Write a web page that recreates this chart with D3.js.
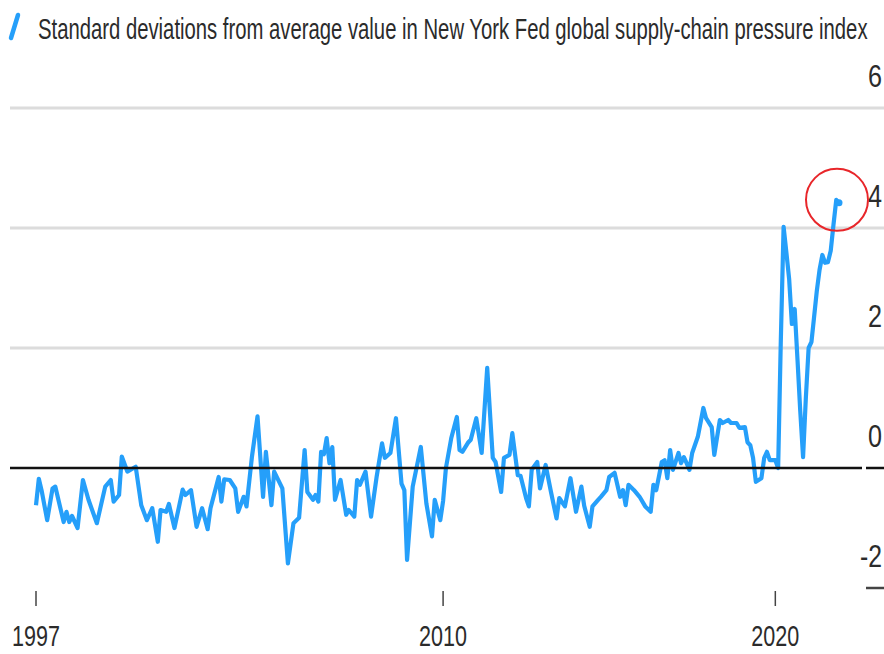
<!DOCTYPE html>
<html>
<head>
<meta charset="utf-8">
<script src="https://cdn.jsdelivr.net/npm/d3@7"></script>
<style>
  html, body { margin: 0; padding: 0; background: #fff; }
  svg { display: block; }
  text { font-family: "Liberation Sans", Arial, sans-serif; fill: #2b2b2b; }
</style>
</head>
<body>
<script>
// GSCPI, standard deviations from average
var dates = ["1997-10","1997-11","1997-12","1998-02","1998-04","1998-05","1998-08","1998-09","1998-10","1998-11",
  "1999-01","1999-03","1999-05","1999-08","1999-11","2000-01","2000-02","2000-04","2000-05","2000-07",
  "2000-10","2000-12","2001-02","2001-04","2001-06","2001-07","2001-09","2001-10","2001-12","2002-01",
  "2002-03","2002-04","2002-06","2002-08","2002-10","2002-12","2003-01","2003-04","2003-05","2003-06",
  "2003-08","2003-10","2003-11","2004-01","2004-02","2004-04","2004-06","2004-08","2004-09","2004-11",
  "2004-12","2005-03","2005-05","2005-07","2005-09","2005-11","2005-12","2006-02","2006-03","2006-04",
  "2006-05","2006-06","2006-07","2006-08","2006-09","2006-10","2006-12","2007-02","2007-03","2007-05",
  "2007-06","2007-07","2007-09","2007-11","2008-01","2008-03","2008-04","2008-06","2008-08","2008-10",
  "2008-11","2008-12","2009-02","2009-05","2009-07","2009-09","2009-10","2009-12","2010-01","2010-02",
  "2010-04","2010-06","2010-07","2010-08","2010-10","2010-11","2011-01","2011-03","2011-05","2011-07",
  "2011-08","2011-10","2011-11","2012-01","2012-02","2012-04","2012-05","2012-07","2012-08","2012-09",
  "2012-11","2012-12","2013-02","2013-04","2013-06","2013-07","2013-09","2013-11","2014-01","2014-03",
  "2014-04","2014-06","2014-07","2014-09","2014-10","2014-12","2015-01","2015-03","2015-05","2015-06",
  "2015-07","2015-08","2015-10","2015-12","2016-02","2016-04","2016-05","2016-06","2016-08","2016-09",
  "2016-10","2016-11","2016-12","2017-02","2017-03","2017-04","2017-05","2017-06","2017-07","2017-09",
  "2017-11","2017-12","2018-02","2018-03","2018-05","2018-06","2018-08","2018-09","2018-11","2018-12",
  "2019-02","2019-03","2019-04","2019-05","2019-06","2019-08","2019-09","2019-10","2019-11","2020-01",
  "2020-02","2020-03","2020-04","2020-05","2020-06","2020-07","2020-08","2020-09","2020-10","2020-11",
  "2020-12","2021-01","2021-02","2021-03","2021-04","2021-05","2021-06","2021-07","2021-08","2021-09",
  "2021-10","2021-11","2021-12"];

var values = [-0.62,-0.18,-0.37,-0.87,-0.34,-0.31,-0.90,-0.73,-0.90,-0.80,
  -1.00,-0.20,-0.53,-0.92,-0.31,-0.20,-0.56,-0.45,0.19,-0.06,
  0.02,-0.62,-0.87,-0.67,-1.23,-0.70,-0.73,-0.60,-1.00,-0.78,
  -0.36,-0.45,-0.37,-0.98,-0.67,-1.02,-0.67,-0.15,-0.56,-0.19,
  -0.20,-0.34,-0.73,-0.48,-0.64,0.19,0.86,-0.48,0.27,-0.62,
  -0.06,-0.34,-1.59,-0.92,-0.83,0.30,-0.40,-0.53,-0.45,-0.56,
  0.27,0.23,0.50,0.08,0.35,-0.53,-0.20,-0.78,-0.70,-0.81,
  -0.20,-0.28,-0.06,-0.81,-0.15,0.41,0.17,0.25,0.83,-0.26,
  -0.37,-1.53,-0.31,0.35,-0.59,-1.14,-0.53,-0.87,-0.55,0.00,
  0.50,0.85,0.30,0.27,0.42,0.47,0.83,0.25,1.67,0.17,
  0.10,-0.40,0.17,0.22,0.58,-0.12,-0.13,-0.50,-0.64,-0.03,
  0.10,-0.34,0.05,-0.40,-0.84,-0.50,-0.64,-0.17,-0.73,-0.31,
  -0.63,-0.98,-0.64,-0.53,-0.48,-0.37,-0.15,-0.08,-0.48,-0.37,
  -0.62,-0.28,-0.37,-0.48,-0.64,-0.73,-0.28,-0.37,0.10,0.13,
  -0.17,0.30,-0.03,0.25,0.08,0.18,0.08,-0.03,0.25,0.52,
  1.00,0.83,0.68,0.22,0.80,0.75,0.80,0.75,0.75,0.67,
  0.68,0.43,0.38,0.17,-0.23,-0.17,0.17,0.27,0.13,0.13,
  0.00,2.10,4.02,3.60,3.15,2.40,2.65,1.80,0.95,0.18,
  1.15,2.00,2.10,2.50,2.95,3.30,3.55,3.42,3.43,3.62,
  4.05,4.47,4.42];

var yTicks = [6, 4, 2, 0, -2];
var xTickLabels = ["1997", "2010", "2020"];
var title = "Standard deviations from average value in New York Fed global supply-chain pressure index";

var W = 884, H = 654;
var parse = d3.timeParse("%Y-%m");
var data = dates.map(function(d, i){ return {date: parse(d), value: values[i]}; });
var xTickDates = [data[0].date, new Date(2010, 0, 1), new Date(2020, 0, 1)];

var svg = d3.select("body").append("svg")
  .attr("width", W)
  .attr("height", H);

var x = d3.scaleTime()
  .domain(d3.extent(data, function(d){ return d.date; }))
  .range([36, 839]);

var y = d3.scaleLinear()
  .domain([-2, 6])
  .range([588, 108]);

// squeeze a text horizontally to a wanted width (the reference uses a condensed face)
function condense(sel, width, anchor){
  sel.each(function(){
    var t = d3.select(this);
    var len = this.getComputedTextLength();
    var s = width / len;
    var tx = +t.attr("data-x"), ty = +t.attr("data-y");
    var off = anchor === "end" ? -width : anchor === "middle" ? -width / 2 : 0;
    t.attr("x", 0).attr("y", 0)
     .attr("transform", "translate(" + (tx + off) + "," + ty + ") scale(" + s + ",1)");
  });
}

// title with the blue legend slash
svg.append("line")
  .attr("x1", 11).attr("y1", 38)
  .attr("x2", 18).attr("y2", 15)
  .attr("stroke", "#259ffa")
  .attr("stroke-width", 4.5)
  .attr("stroke-linecap", "round");

svg.append("text")
  .attr("data-x", 38)
  .attr("data-y", 39)
  .attr("font-size", 30)
  .text(title)
  .call(condense, 830, "start");

// gridlines
svg.append("g").selectAll("line")
  .data(yTicks.filter(function(v){ return v > 0; }))
  .enter().append("line")
  .attr("x1", 10).attr("x2", W)
  .attr("y1", function(d){ return y(d); })
  .attr("y2", function(d){ return y(d); })
  .attr("stroke", "#dcdcdc")
  .attr("stroke-width", 3);

// right-hand tick dashes for 0 and -2
svg.append("g").selectAll("line")
  .data(yTicks.filter(function(v){ return v <= 0; }))
  .enter().append("line")
  .attr("x1", 866).attr("x2", W)
  .attr("y1", function(d){ return y(d); })
  .attr("y2", function(d){ return y(d); })
  .attr("stroke", function(d){ return d === 0 ? "#111" : "#444"; })
  .attr("stroke-width", 2.5);

// y labels
svg.append("g").selectAll("text")
  .data(yTicks)
  .enter().append("text")
  .attr("data-x", 882)
  .attr("data-y", function(d){ return y(d) - 21; })
  .attr("font-size", 31)
  .text(function(d){ return d; })
  .each(function(d){ d3.select(this).call(condense, d < 0 ? 22 : 14, "end"); });

// x axis ticks and labels
var xt = svg.append("g").selectAll("g")
  .data(xTickDates)
  .enter().append("g")
  .attr("transform", function(d){ return "translate(" + x(d) + ",0)"; });

xt.append("line")
  .attr("y1", 591).attr("y2", 606)
  .attr("stroke", "#444")
  .attr("stroke-width", 1.5);

xt.append("text")
  .attr("data-x", 0)
  .attr("data-y", 646)
  .attr("font-size", 29)
  .text(function(d, i){ return xTickLabels[i]; })
  .call(condense, 48, "middle");

// series line
var line = d3.line()
  .x(function(d){ return x(d.date); })
  .y(function(d){ return y(d.value); });

svg.append("path")
  .datum(data)
  .attr("d", line)
  .attr("fill", "none")
  .attr("stroke", "#259ffa")
  .attr("stroke-width", 4.2)
  .attr("stroke-linejoin", "round");

// zero line drawn over the series
svg.append("line")
  .attr("x1", 10).attr("x2", 862)
  .attr("y1", y(0)).attr("y2", y(0))
  .attr("stroke", "#111")
  .attr("stroke-width", 2.5);

// latest value dot and red highlight circle
var last = data[data.length - 1];
svg.append("circle")
  .attr("cx", x(last.date))
  .attr("cy", y(last.value))
  .attr("r", 3.5)
  .attr("fill", "#259ffa");

svg.append("circle")
  .attr("cx", x(last.date) - 2)
  .attr("cy", y(last.value) - 3)
  .attr("r", 31)
  .attr("fill", "none")
  .attr("stroke", "#e8262a")
  .attr("stroke-width", 2);
</script>
</body>
</html>
